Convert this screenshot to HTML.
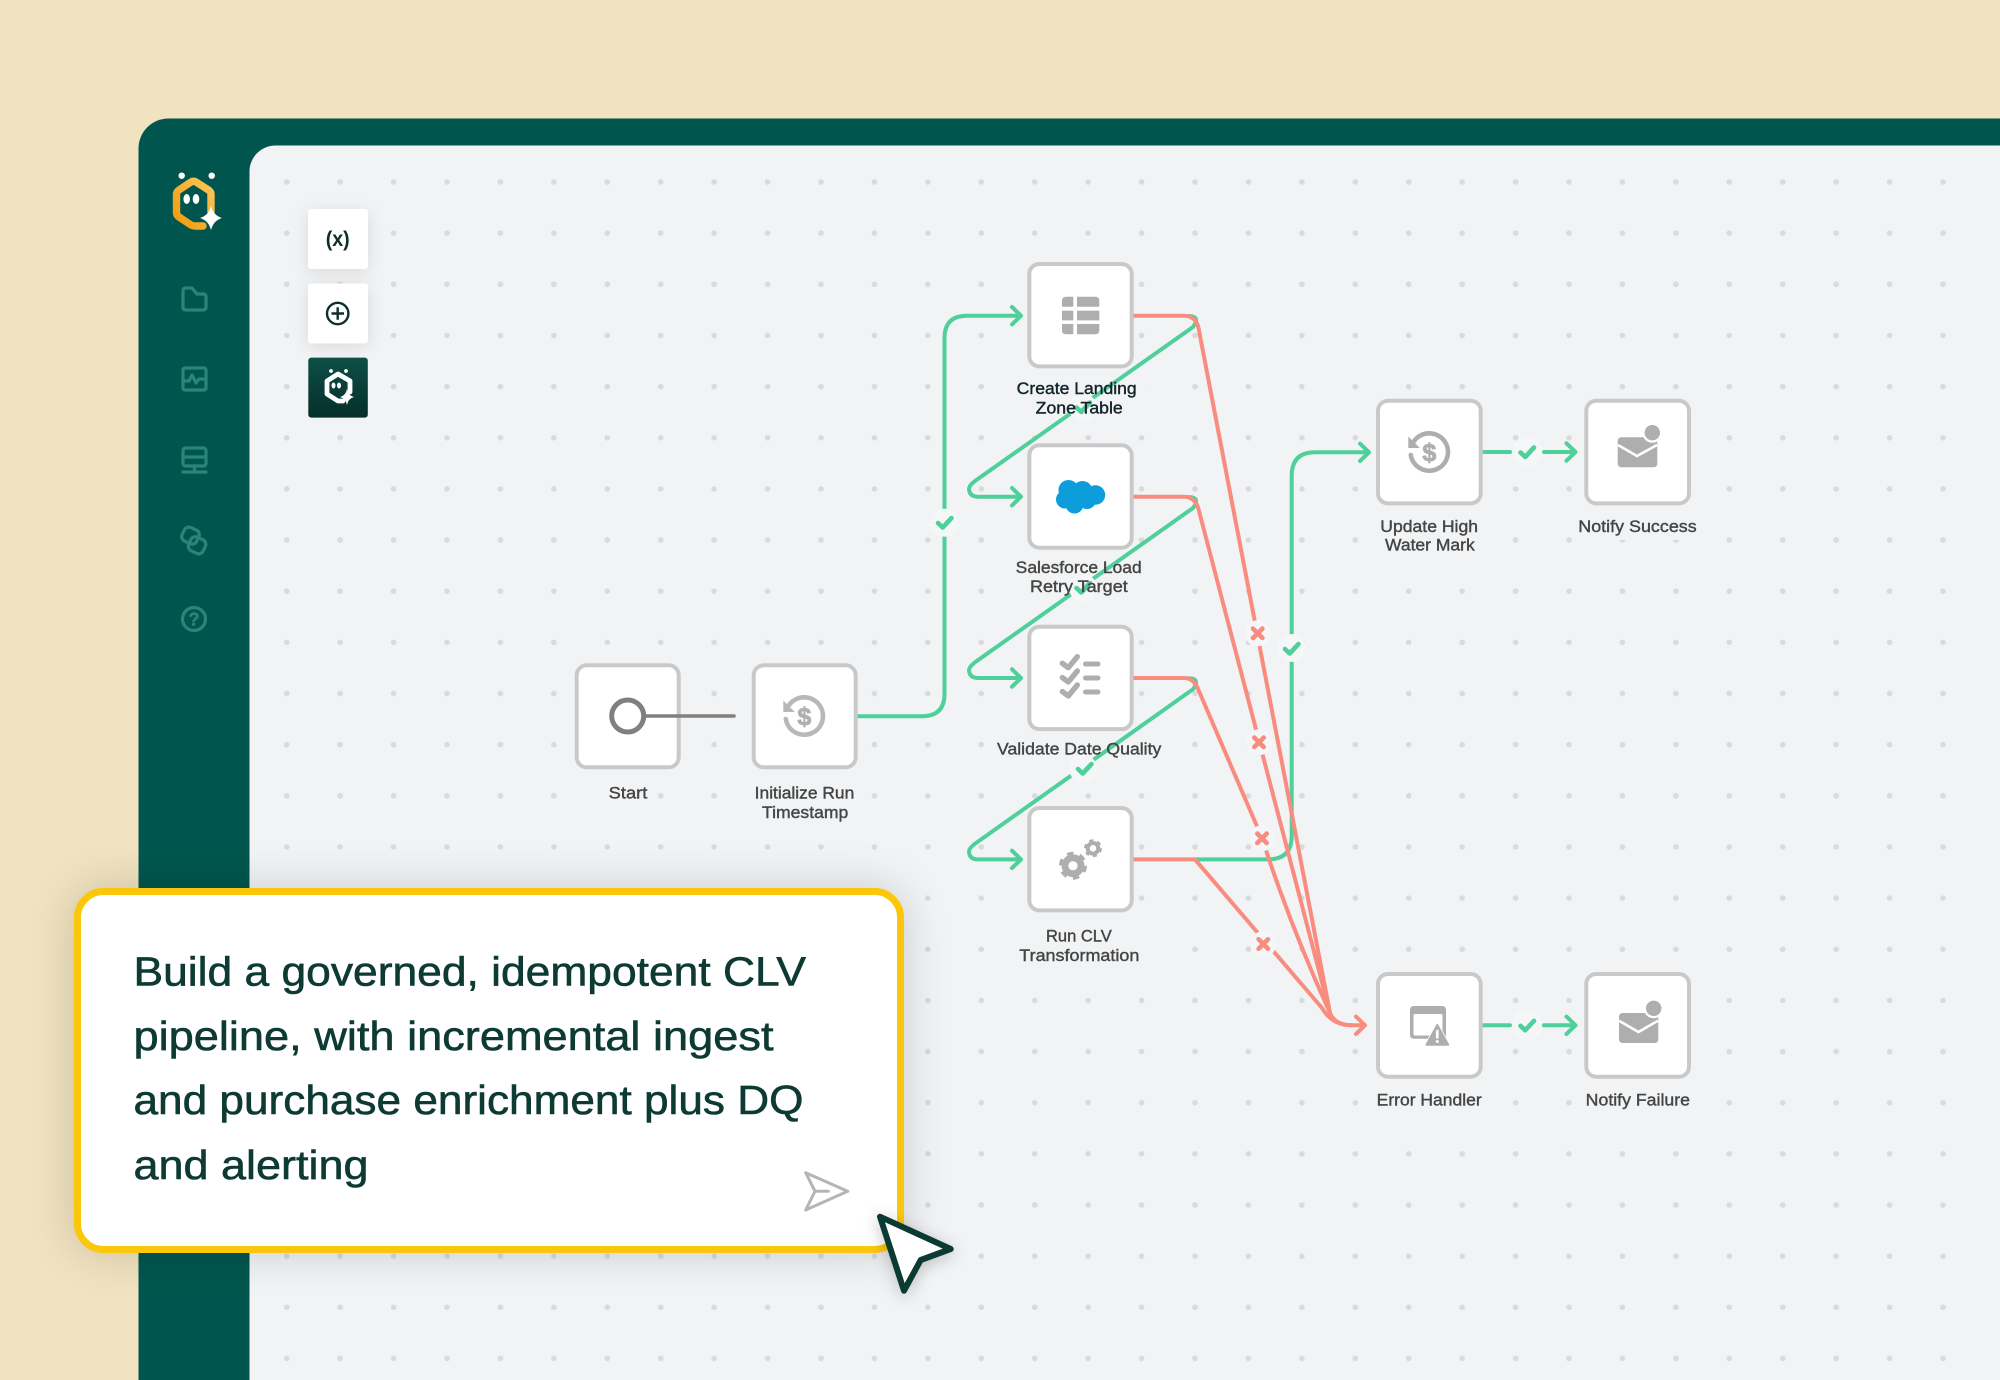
<!DOCTYPE html>
<html lang="en">
<head>
<meta charset="utf-8">
<title>Pipeline diagram</title>
<style>
html,body{margin:0;padding:0;width:2000px;height:1380px;overflow:hidden;background:#f1e3c0}
svg{display:block}
text{font-family:"Liberation Sans",sans-serif}
.lb{font-size:17px;fill:#454545;stroke:#454545;stroke-width:.4}
.lbd{font-size:17px;fill:#10242a;stroke:#10242a;stroke-width:.4}
.ct{font-size:41px;fill:#0d3a33;stroke:#0d3a33;stroke-width:.6}
.g{fill:none;stroke:#4fd09a;stroke-width:4;stroke-linecap:round;stroke-linejoin:round}
.r{fill:none;stroke:#f88c7f;stroke-width:4;stroke-linecap:round;stroke-linejoin:round}
.node{fill:#fff;stroke:#c9c9c9;stroke-width:4}
.side{fill:none;stroke:#2a8577;stroke-width:3.2;stroke-linecap:round;stroke-linejoin:round}
.ic{fill:#aeaeae}
</style>
</head>
<body>
<svg width="2000" height="1380" viewBox="0 0 2000 1380" xmlns="http://www.w3.org/2000/svg">
<defs>
<linearGradient id="lg" x1="0" y1="1" x2="1" y2="0"><stop offset="0" stop-color="#f29a0c"/><stop offset="1" stop-color="#fbc75a"/></linearGradient>
<linearGradient id="bg3" x1="0" y1="0" x2="0" y2="1"><stop offset="0" stop-color="#0d4f46"/><stop offset="1" stop-color="#052f2a"/></linearGradient>
<pattern id="dots" x="260" y="156.4" width="53.43" height="51.15" patternUnits="userSpaceOnUse"><circle cx="26.7" cy="25.6" r="2.8" fill="#d9dade"/></pattern>
</defs>

<rect width="2000" height="1380" fill="#f1e3c0"/>
<path d="M138.5 1380 V148.5 A30 30 0 0 1 168.5 118.5 H2000 V1380Z" fill="#00564e"/>
<path d="M249.5 1380 V171.5 A26 26 0 0 1 275.5 145.5 H2000 V1380Z" fill="#f1f3f5"/>
<rect x="262" y="158" width="1700" height="1222" fill="url(#dots)"/>

<!-- logo -->
<path d="M203 226 H195 Q192.5 226 190.5 224.7 L179 217 Q176.5 215.3 176.5 212.5 V194.5 Q176.5 191.7 179 190 L190.5 182.3 Q193.5 180.3 196.5 182.3 L208.5 190 Q211 191.7 211 194.5 V212" fill="none" stroke="url(#lg)" stroke-width="7.4" stroke-linecap="round" stroke-linejoin="round"/>
<circle cx="181.7" cy="175.7" r="3.2" fill="#fff"/><circle cx="211.7" cy="175.7" r="3.2" fill="#fff"/>
<ellipse cx="186.7" cy="199" rx="3.3" ry="5" fill="#fff"/><ellipse cx="196" cy="199" rx="3.3" ry="5" fill="#fff"/>
<path d="M211 206 Q213.5 215.5 222 218 Q213.5 220.5 211 230 Q208.5 220.5 200 218 Q208.5 215.5 211 206Z" fill="#fff"/>

<!-- sidebar icons -->
<path class="side" d="M183 291 Q183 288 186 288 H192 L197 294 H203 Q206 294 206 297 V307 Q206 310 203 310 H186 Q183 310 183 307Z"/>
<rect class="side" x="183" y="368" width="23" height="22" rx="2"/>
<path class="side" d="M184 381 H189 L192 375 L196 383 L199 379 H205" stroke-width="2.5"/>
<rect class="side" x="183" y="448" width="23" height="18" rx="2.5"/><path class="side" d="M183 457 H206 M183 472 H206 M194.5 466 V472" stroke-width="2.8"/>
<g transform="rotate(25 194 540)"><rect class="side" x="181" y="530" width="16" height="15" rx="5"/><rect class="side" x="191" y="536" width="16" height="15" rx="5"/></g>
<circle class="side" cx="194" cy="619" r="11.5"/>
<text x="194" y="625.5" text-anchor="middle" font-size="18" font-weight="bold" fill="#2a8577" stroke="#2a8577" stroke-width=".5">?</text>

<!-- tool buttons -->
<g style="filter:drop-shadow(0 3px 8px rgba(0,0,0,.10))">
<rect x="308" y="209" width="60" height="60" rx="3" fill="#fff"/>
<rect x="308" y="283.5" width="60" height="60" rx="3" fill="#fff"/>
</g>
<text x="337.7" y="246" text-anchor="middle" font-size="21" font-weight="bold" fill="#0f2e2a" textLength="24" lengthAdjust="spacingAndGlyphs">(x)</text>
<circle cx="337.7" cy="313.5" r="10.7" fill="none" stroke="#0f2e2a" stroke-width="2.4"/>
<path d="M331.5 313.5 H344 M337.7 307.2 V319.8" stroke="#0f2e2a" stroke-width="2.4" fill="none"/>
<rect x="308.3" y="357.6" width="59.5" height="60" rx="3" fill="url(#bg3)"/>
<path d="M343 401 H338 L327 394 V381 L338 374 L350 381 V392" fill="none" stroke="#fff" stroke-width="4.8" stroke-linecap="round" stroke-linejoin="round"/>
<circle cx="331" cy="371" r="1.9" fill="#fff"/><circle cx="346" cy="371" r="1.9" fill="#fff"/>
<ellipse cx="333.5" cy="385.5" rx="2" ry="3" fill="#fff"/><ellipse cx="339" cy="385.5" rx="2" ry="3" fill="#fff"/>
<path d="M347 389 Q348.2 395.5 354 397 Q348.2 398.5 347 405 Q345.8 398.5 340 397 Q345.8 395.5 347 389Z" fill="#fff"/>

<!-- label halos -->
<g fill="#f1f3f5">
<rect x="602" y="780" width="52" height="26"/>
<rect x="748" y="780" width="114" height="46"/>
<rect x="1010" y="377" width="134" height="44"/>
<rect x="1010" y="558" width="138" height="42"/>
<rect x="990" y="738" width="178" height="24"/>
<rect x="1012" y="925" width="134" height="44"/>
<rect x="1374" y="516" width="112" height="42"/>
<rect x="1572" y="516" width="130" height="24"/>
<rect x="1370" y="1089" width="118" height="24"/>
<rect x="1579" y="1089" width="118" height="24"/>
</g>

<!-- green edges -->
<path class="g" d="M858 716.2 H922 Q944.5 716.2 944.5 694 V338 Q944.5 315.7 967 315.7 H1020"/>
<path class="g" d="M1012 307 L1021 315.7 L1012 324.4"/>
<path class="g" d="M1188 316 Q1201 316 1193 327 L975 481 Q969 485.5 969 489 Q969.5 496.7 978 496.7 H1020"/>
<path class="g" d="M1012 488 L1021 496.7 L1012 505.4"/>
<path class="g" d="M1188 497 Q1201 497 1193 508 L975 662.3 Q969 666.8 969 670.3 Q969.5 678 978 678 H1020"/>
<path class="g" d="M1012 669.3 L1021 678 L1012 686.7"/>
<path class="g" d="M1188 678.3 Q1201 678.3 1193 689.3 L975 843.7 Q969 848.2 969 851.7 Q969.5 859.4 978 859.4 H1020"/>
<path class="g" d="M1012 850.7 L1021 859.4 L1012 868"/>
<path class="g" d="M1195 859.4 H1268 Q1291.7 859.4 1291.7 836 V476 Q1291.7 452.3 1315 452.3 H1368"/>
<path class="g" d="M1360 443.6 L1369 452.3 L1360 461"/>
<path class="g" d="M1484 452 H1510 M1544 452 H1575"/>
<path class="g" d="M1566.5 443.3 L1575.5 452 L1566.5 460.7"/>
<path class="g" d="M1484 1025.3 H1510 M1544 1025.3 H1575"/>
<path class="g" d="M1566.5 1016.6 L1575.5 1025.3 L1566.5 1034"/>

<!-- red edges -->
<path class="r" d="M1134 315.7 H1184 Q1196 315.7 1198.5 328 L1330 1013 Q1335 1025.3 1352 1025.3 H1364"/>
<path class="r" d="M1134 496.7 H1184 Q1195 496.7 1198.5 509 L1330 1013"/>
<path class="r" d="M1134 678 H1184 Q1194 678 1198.5 690 L1262 838 Q1290 925 1330 1013"/>
<path class="r" d="M1134 859.4 H1195 L1322 1008 Q1332 1025.3 1352 1025.3"/>
<path class="r" d="M1356 1016.6 L1365 1025.3 L1356 1034"/>

<!-- check markers -->
<g fill="#f4f6f7">
<circle cx="944.5" cy="522.7" r="14"/>
<circle cx="1083" cy="407.7" r="14"/>
<circle cx="1083" cy="588" r="14"/>
<circle cx="1083" cy="768.5" r="14"/>
<circle cx="1291.7" cy="648" r="14"/>
<circle cx="1527" cy="452" r="15"/>
<circle cx="1527" cy="1025.3" r="15"/>
<circle cx="1257.7" cy="633.3" r="13"/>
<circle cx="1259" cy="742.3" r="13"/>
<circle cx="1262" cy="838.3" r="13"/>
<circle cx="1263.3" cy="944" r="13"/>
</g>
<g fill="none" stroke="#4fd09a" stroke-width="4.6" stroke-linecap="round" stroke-linejoin="round">
<path d="M938 523 L942.7 527.5 L951.5 518"/>
<path d="M1076.5 407.5 L1081.2 412 L1090 402.5"/>
<path d="M1076.5 588 L1081.2 592.5 L1090 583"/>
<path d="M1078 769 L1082.7 773.5 L1091.5 764"/>
<path d="M1285 649 L1289.7 653.5 L1298.5 644"/>
<path d="M1520.5 452.5 L1525.2 457 L1534 447.5"/>
<path d="M1520.5 1025.8 L1525.2 1030.3 L1534 1020.8"/>
</g>
<g fill="none" stroke="#f88c7f" stroke-width="4.6" stroke-linecap="round">
<path d="M1253 628.6 L1262.4 638 M1262.4 628.6 L1253 638"/>
<path d="M1254.3 737.6 L1263.7 747 M1263.7 737.6 L1254.3 747"/>
<path d="M1257.3 833.6 L1266.7 843 M1266.7 833.6 L1257.3 843"/>
<path d="M1258.6 939.3 L1268 948.7 M1268 939.3 L1258.6 948.7"/>
</g>

<!-- nodes -->
<rect class="node" x="576.7" y="665.3" width="102" height="102" rx="10"/>
<rect class="node" x="753.7" y="665.3" width="102" height="102" rx="10"/>
<rect class="node" x="1029.3" y="264" width="102.4" height="102.4" rx="10"/>
<rect class="node" x="1029.3" y="445.3" width="102.4" height="102.4" rx="10"/>
<rect class="node" x="1029.3" y="626.7" width="102.4" height="102.4" rx="10"/>
<rect class="node" x="1029.3" y="808" width="102.4" height="102.4" rx="10"/>
<rect class="node" x="1378" y="400.7" width="102.7" height="102.7" rx="10"/>
<rect class="node" x="1586.3" y="400.7" width="102.7" height="102.7" rx="10"/>
<rect class="node" x="1378" y="974" width="102.7" height="102.7" rx="10"/>
<rect class="node" x="1586.3" y="974" width="102.7" height="102.7" rx="10"/>

<!-- start -->
<path d="M644 716 H734" stroke="#808080" stroke-width="3.6" stroke-linecap="round"/>
<circle cx="627.7" cy="716" r="16" fill="#fff" stroke="#808080" stroke-width="5"/>

<!-- dollar icons -->
<g transform="translate(804.3 716)">
<path d="M-15.5 -10.5 A18.7 18.7 0 1 1 -18.5 3" fill="none" stroke="#b8b8b8" stroke-width="4.6" stroke-linecap="round"/>
<path d="M-21 -15.5 V-4 H-9.5 Z" fill="#b8b8b8"/>
<text x="0" y="9" text-anchor="middle" font-size="25" font-weight="bold" fill="#b0b0b0" stroke="#b0b0b0" stroke-width=".8">$</text>
</g>
<g transform="translate(1429.3 452)">
<path d="M-15.5 -10.5 A18.7 18.7 0 1 1 -18.5 3" fill="none" stroke="#aeaeae" stroke-width="4.6" stroke-linecap="round"/>
<path d="M-21 -15.5 V-4 H-9.5 Z" fill="#aeaeae"/>
<text x="0" y="9" text-anchor="middle" font-size="25" font-weight="bold" fill="#aeaeae" stroke="#aeaeae" stroke-width=".8">$</text>
</g>

<!-- table icon -->
<g class="ic">
<path d="M1066 296.7 H1073.3 V306.7 H1062 V300.7 Q1062 296.7 1066 296.7Z"/>
<path d="M1077 296.7 H1095.3 Q1099.3 296.7 1099.3 300.7 V306.7 H1077Z"/>
<rect x="1062" y="310.7" width="11.3" height="9.7"/>
<rect x="1077" y="310.7" width="22.3" height="9.7"/>
<path d="M1062 324 H1073.3 V334.3 H1066 Q1062 334.3 1062 330.3Z"/>
<path d="M1077 324 H1099.3 V330.3 Q1099.3 334.3 1095.3 334.3 H1077Z"/>
</g>

<!-- salesforce cloud -->
<g fill="#0d9dda">
<circle cx="1068.5" cy="490" r="10"/>
<circle cx="1082.5" cy="491" r="10"/>
<circle cx="1095.5" cy="495" r="9.7"/>
<circle cx="1065" cy="499.5" r="9"/>
<circle cx="1074.5" cy="504.5" r="9"/>
<circle cx="1087" cy="500" r="9"/>
<rect x="1066" y="488" width="30" height="15"/>
</g>

<!-- checklist -->
<g fill="none" stroke="#aeaeae" stroke-linecap="round" stroke-linejoin="round">
<path stroke-width="5.4" d="M1062.3 663.3 L1068.3 667.7 L1077.3 656.7 M1062.3 677.6 L1068.3 682 L1077.3 671 M1062.3 691.6 L1068.3 696 L1077.3 685"/>
<path stroke-width="5" d="M1085.5 664 H1098 M1085.5 678 H1098 M1085.5 692 H1098"/>
</g>

<!-- gears -->
<circle cx="1073" cy="865.7" r="8" fill="none" stroke="#aeaeae" stroke-width="6.8"/>
<circle cx="1073" cy="865.7" r="12.4" fill="none" stroke="#aeaeae" stroke-width="3.2" stroke-dasharray="6.5 6.5"/>
<circle cx="1093" cy="848.3" r="5.3" fill="none" stroke="#aeaeae" stroke-width="4"/>
<circle cx="1093" cy="848.3" r="8" fill="none" stroke="#aeaeae" stroke-width="2" stroke-dasharray="4.2 4.2"/>

<!-- envelopes -->
<g>
<rect x="1617.7" y="437.3" width="39.6" height="30" rx="3.5" fill="#aeaeae"/>
<path d="M1618 445 L1637 456 L1657 445" fill="none" stroke="#fff" stroke-width="2.6"/>
<circle cx="1652.3" cy="432.7" r="10" fill="#fff"/>
<circle cx="1652.3" cy="432.7" r="7.7" fill="#aeaeae"/>
</g>
<g>
<rect x="1619" y="1013" width="39.3" height="30" rx="3.5" fill="#aeaeae"/>
<path d="M1619 1020.7 L1638.5 1032 L1658 1020.7" fill="none" stroke="#fff" stroke-width="2.6"/>
<circle cx="1653.7" cy="1008.3" r="10" fill="#fff"/>
<circle cx="1653.7" cy="1008.3" r="7.7" fill="#aeaeae"/>
</g>

<!-- error icon -->
<rect x="1410" y="1006" width="36" height="32.7" rx="3.5" fill="#aeaeae"/>
<rect x="1413.5" y="1014" width="29" height="21.5" rx="1.5" fill="#fff"/>
<path d="M1437.3 1021 L1423.5 1046.5 H1451 Z" fill="#fff"/>
<path d="M1437.3 1025 L1426.5 1044.7 H1448.2 Z" fill="#aeaeae" stroke="#aeaeae" stroke-width="2" stroke-linejoin="round"/>
<path d="M1437.3 1031 V1037.5" stroke="#fff" stroke-width="2.6" stroke-linecap="round"/>
<circle cx="1437.3" cy="1041.5" r="1.5" fill="#fff"/>

<!-- labels -->
<text class="lb" x="608.7" y="798.7" textLength="38.6" lengthAdjust="spacingAndGlyphs">Start</text>
<text class="lb" x="754.7" y="798.7" textLength="99.6" lengthAdjust="spacingAndGlyphs">Initialize Run</text>
<text class="lb" x="762" y="818" textLength="86.3" lengthAdjust="spacingAndGlyphs">Timestamp</text>
<text class="lbd" x="1016.7" y="394" textLength="120" lengthAdjust="spacingAndGlyphs">Create Landing</text>
<text class="lbd" x="1035.7" y="413.3" textLength="87" lengthAdjust="spacingAndGlyphs">Zone Table</text>
<text class="lb" x="1015.7" y="573" textLength="126" lengthAdjust="spacingAndGlyphs">Salesforce Load</text>
<text class="lb" x="1030" y="592" textLength="97.7" lengthAdjust="spacingAndGlyphs">Retry Target</text>
<text class="lb" x="997" y="754.3" textLength="164.3" lengthAdjust="spacingAndGlyphs">Validate Date Quality</text>
<text class="lb" x="1046" y="941.7" textLength="65.7" lengthAdjust="spacingAndGlyphs">Run CLV</text>
<text class="lb" x="1019.3" y="961" textLength="120" lengthAdjust="spacingAndGlyphs">Transformation</text>
<text class="lb" x="1380.3" y="532" textLength="97.7" lengthAdjust="spacingAndGlyphs">Update High</text>
<text class="lb" x="1385" y="550.7" textLength="89.7" lengthAdjust="spacingAndGlyphs">Water Mark</text>
<text class="lb" x="1578.3" y="532" textLength="118.4" lengthAdjust="spacingAndGlyphs">Notify Success</text>
<text class="lb" x="1376.7" y="1105.3" textLength="105" lengthAdjust="spacingAndGlyphs">Error Handler</text>
<text class="lb" x="1585.7" y="1105.3" textLength="104.3" lengthAdjust="spacingAndGlyphs">Notify Failure</text>

<!-- callout -->
<rect x="77.5" y="891.5" width="823" height="358" rx="26" fill="#fff" stroke="#fcc70a" stroke-width="7" style="filter:drop-shadow(0 0 22px rgba(0,0,0,.16))"/>
<text class="ct" x="133.5" y="985.7" textLength="672.5" lengthAdjust="spacingAndGlyphs">Build a governed, idempotent CLV</text>
<text class="ct" x="133.5" y="1050" textLength="640" lengthAdjust="spacingAndGlyphs">pipeline, with incremental ingest</text>
<text class="ct" x="133.5" y="1114" textLength="670" lengthAdjust="spacingAndGlyphs">and purchase enrichment plus DQ</text>
<text class="ct" x="133.5" y="1178.8" textLength="235" lengthAdjust="spacingAndGlyphs">and alerting</text>
<path d="M805.7 1172.7 L847.7 1191.3 L805.7 1210 L815 1191.3 Z M815 1191.3 H828.3" fill="none" stroke="#b5b5b5" stroke-width="3" stroke-linejoin="round" stroke-linecap="round"/>

<!-- cursor -->
<path d="M880 1216.7 L950.7 1249 L920.7 1260 L904 1290.7 Z" fill="#fff" stroke="#0b3a32" stroke-width="6" stroke-linejoin="round" style="filter:drop-shadow(0 3px 8px rgba(0,0,0,.22))"/>
</svg>
</body>
</html>
